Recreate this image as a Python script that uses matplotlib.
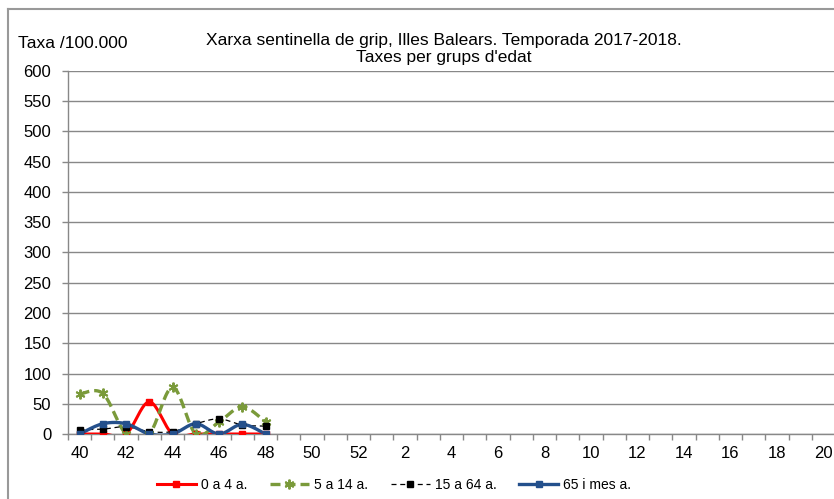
import numpy as np
import matplotlib
matplotlib.use("Agg")
import matplotlib.pyplot as plt
from matplotlib.lines import Line2D

plt.rcParams['font.family'] = ['Liberation Sans', 'DejaVu Sans']

# ---- data ----
weeks = [40, 41, 42, 43, 44, 45, 46, 47, 48, 49, 50, 51, 52] + list(range(1, 21))
series_names = ["0 a 4 a.", "5 a 14 a.", "15 a 64 a.", "65 i mes a."]
v_0_4 = [0, 0, 0, 53, 0, 0, 0, 0, 0]
v_5_14 = [66, 67, 0, 0, 77, 0, 20, 45, 20]
v_15_64 = [7, 8, 12, 4, 4, 17, 25, 15, 13]
v_65 = [0, 17, 17, 0, 0, 17, 0, 16, 0]
y_ticks = list(range(0, 601, 50))


def smooth(xs, ys, n=20):
    """Catmull-Rom curve through the points (Excel-style smoothed line)."""
    xs = np.asarray(xs, float)
    ys = np.asarray(ys, float)
    px = np.concatenate([[xs[0]], xs, [xs[-1]]])
    py = np.concatenate([[ys[0]], ys, [ys[-1]]])
    ox, oy = [], []
    for i in range(1, len(px) - 2):
        t = np.linspace(0, 1, n, endpoint=(i == len(px) - 3))
        for arr, out in ((px, ox), (py, oy)):
            p0, p1, p2, p3 = arr[i - 1], arr[i], arr[i + 1], arr[i + 2]
            out.extend(0.5 * ((2 * p1) + (-p0 + p2) * t
                              + (2 * p0 - 5 * p1 + 4 * p2 - p3) * t ** 2
                              + (-p0 + 3 * p1 - 3 * p2 + p3) * t ** 3))
    return np.array(ox), np.array(oy)


W, H = 834, 499
fig = plt.figure(figsize=(W / 100, H / 100), dpi=100)
ax = fig.add_axes([68 / W, (H - 434) / H, 767 / W, (434 - 71) / H])

STAR = (6, 2, 0)
styles = [
    dict(color="#FF0000", ls="-", lw=2.2, marker="s", ms=5, dashes=None),
    dict(color="#7A9A3A", ls="--", lw=2.4, marker=STAR, ms=7, dashes=(3, 1.5)),
    dict(color="#000000", ls="--", lw=0.9, marker="s", ms=5, dashes=(4, 3)),
    dict(color="#24508C", ls="-", lw=2.4, marker="s", ms=5, dashes=None),
]
all_vals = [v_0_4, v_5_14, v_15_64, v_65]
handles = []
for name, vals, st in zip(series_names, all_vals, styles):
    xi = np.arange(len(vals))
    sx, sy = smooth(xi, vals)
    ln, = ax.plot(sx, sy, color=st["color"], ls=st["ls"], lw=st["lw"], zorder=3)
    if st["dashes"]:
        ln.set_dashes(st["dashes"])
    mk = st["marker"]
    mew = 1.4 if mk == STAR else 1
    ax.plot(xi, vals, ls="none", marker=mk, ms=st["ms"], color=st["color"],
            mec=st["color"], mew=mew, zorder=4)
    h = Line2D([], [], color=st["color"], ls=st["ls"], lw=st["lw"], marker=mk,
               ms=st["ms"], mec=st["color"], mew=mew)
    if st["dashes"]:
        h.set_dashes(st["dashes"])
    handles.append(h)

ax.set_xlim(-0.5, len(weeks) - 0.5)
ax.set_ylim(0, 600)
ax.set_yticks(y_ticks)
ax.set_yticklabels([str(v) for v in y_ticks])
lab_idx = [i for i, w in enumerate(weeks) if w % 2 == 0]
ax.set_xticks(lab_idx)
ax.set_xticklabels([str(weeks[i]) for i in lab_idx])
ax.set_xticks(np.arange(-0.5, len(weeks), 1.0), minor=True)
ax.tick_params(axis="x", which="major", length=0, pad=9, labelsize=12)
ax.tick_params(axis="x", which="minor", length=4, width=1, color="#888888", direction="out")
ax.tick_params(axis="y", length=4, width=1, color="#888888", pad=8, labelsize=12)

ax.grid(axis="y", color="#888888", lw=1)
ax.set_axisbelow(True)
for s in ["top", "right"]:
    ax.spines[s].set_visible(False)
for s in ["left", "bottom"]:
    ax.spines[s].set_color("#888888")
    ax.spines[s].set_linewidth(1)

fig.text(444 / W, 1 - 49 / H,
         "Xarxa sentinella de grip, Illes Balears. Temporada 2017-2018.\nTaxes per grups d'edat",
         ha="center", va="center", fontsize=12.5, linespacing=1.1)
fig.text(18 / W, 1 - 43 / H, "Taxa /100.000", ha="left", va="center", fontsize=12.5)

fig.legend(handles, series_names, loc="center", bbox_to_anchor=(394 / W, 1 - 485 / H),
           ncol=4, frameon=False, fontsize=10, handlelength=2.8, handletextpad=0.36,
           columnspacing=1.65)

# outer chart border (left & top visible)
fig.add_artist(Line2D([8 / W, 8 / W], [0, 1 - 9 / H], transform=fig.transFigure,
                      color="#999999", lw=1.5))
fig.add_artist(Line2D([8 / W, 1], [1 - 9 / H, 1 - 9 / H], transform=fig.transFigure,
                      color="#999999", lw=1.5))

fig.savefig("out.png", dpi=100)
